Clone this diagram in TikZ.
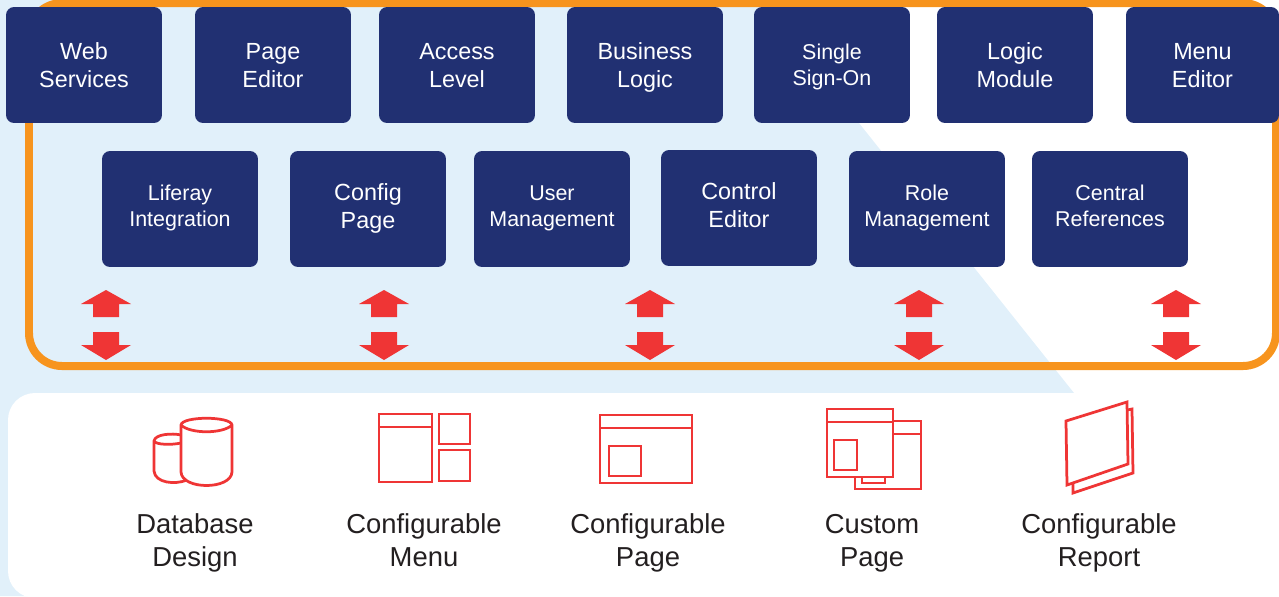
\documentclass[tikz,border=0pt]{standalone}
\usepackage{fontspec}
\setmainfont{Liberation Sans}
\definecolor{navybox}{RGB}{33, 48, 114}
\definecolor{frameorange}{RGB}{247, 148, 30}
\definecolor{arrowred}{RGB}{239, 53, 53}
\definecolor{paleblue}{RGB}{225, 240, 250}
\definecolor{labeldark}{RGB}{35, 31, 32}
\usetikzlibrary{positioning}
\tikzset{
  modbox/.style={fill=navybox, rounded corners=0.16cm, minimum width=3.12cm, minimum height=2.32cm, inner sep=0pt, align=center, text=white, font=\fontsize{13.3}{15.7}\selectfont, text depth=0pt},
  toprow/.style={modbox, text height=25.5pt},
  lowrow/.style={modbox, text height=22.2pt},
  lowsmall/.style={modbox, text height=20pt, font=\fontsize{12.2}{14.6}\selectfont},
  iconline/.style={draw=arrowred, line width=0.055cm, line join=miter},
  itemlabel/.style={align=center, text=labeldark, font=\fontsize{15.6}{19.2}\selectfont, text depth=0pt, text height=26pt}
}

\begin{document}
\begin{tikzpicture}[x=0.02cm, y=-0.02cm]
  \useasboundingbox (0,0) rectangle (1279,596);

  % Background
  \fill[paleblue] (0,0) -- (761,0) -- (1074,393) -- (40,393) -- (40,596) -- (0,596) -- cycle;
  \fill[white, rounded corners=0.54cm] (8,393) rectangle (1320,598);
  \draw[frameorange, line width=0.16cm, rounded corners=0.66cm] (29,3) rectangle (1276,366);

  % Top row
  \node[toprow] (webservices) at (84,65) {Web\\Services};
  \node[toprow] (pageeditor) at (273,65) {Page\\Editor};
  \node[toprow] (accesslevel) at (457,65) {Access\\Level};
  \node[toprow] (businesslogic) at (645,65) {Business\\Logic};
  \node[toprow, text height=23.2pt, font=\fontsize{12.2}{14.6}\selectfont] (singlesignon) at (832,65) {Single\\Sign-On};
  \node[toprow] (logicmodule) at (1015,65) {Logic\\Module};
  \node[toprow, minimum width=3.06cm] (menueditor) at (1202.5,65) {Menu\\Editor};

  % Second row
  \node[lowsmall] (liferay) at (180,209) {Liferay\\Integration};
  \node[lowrow] (configpage) at (368,209) {Config\\Page};
  \node[lowsmall] (usermanagement) at (552,209) {User\\Management};
  \node[lowrow] (controleditor) at (739,208) {Control\\Editor};
  \node[lowsmall] (rolemanagement) at (927,209) {Role\\Management};
  \node[lowsmall] (centralrefs) at (1110,209) {Central\\References};

  % Up and down arrows
  \foreach \ax in {106, 384, 650, 919, 1176} {
    \fill[arrowred] (\ax,290) -- (\ax+25,304) -- (\ax+13,304) -- (\ax+13,317) -- (\ax-13,317) -- (\ax-13,304) -- (\ax-25,304) -- cycle;
    \fill[arrowred] (\ax,360) -- (\ax+25,345) -- (\ax+13,345) -- (\ax+13,332) -- (\ax-13,332) -- (\ax-13,345) -- (\ax-25,345) -- cycle;
  }

  % Database icon
  \draw[iconline] (181,435) .. controls (172,433) and (155,434) .. (154,441) -- (154,471) .. controls (155,483) and (175,485) .. (187,480);
  \draw[iconline] (154,441) .. controls (156,445) and (172,445) .. (181,443);
  \draw[iconline] (181,425) .. controls (182,416) and (231,416) .. (232,425) -- (232,472) .. controls (231,490) and (182,490) .. (181,472) -- cycle;
  \draw[iconline] (181,425) .. controls (190,434) and (223,434) .. (232,425);

  % Menu icon
  \draw[iconline] (379,414) rectangle (432,482);
  \draw[iconline] (379,427) -- (432,427);
  \draw[iconline] (439,414) rectangle (470,444);
  \draw[iconline] (439,450) rectangle (470,481);

  % Page icon
  \draw[iconline] (600,415) rectangle (692,483);
  \draw[iconline] (600,428) -- (692,428);
  \draw[iconline] (609,446) rectangle (641,476);

  % Custom page icon
  \draw[iconline] (827,409) rectangle (893,477);
  \draw[iconline] (827,422) -- (893,422);
  \draw[iconline] (834,440) rectangle (857,470);
  \draw[iconline] (893,421) -- (921,421) -- (921,489) -- (855,489) -- (855,477);
  \draw[iconline] (893,434) -- (921,434);
  \draw[iconline] (862,477) -- (862,483) -- (885,483) -- (885,477);

  % Report icon
  \draw[iconline] (1066,421) -- (1127,402) -- (1128,464) -- (1067,485) -- cycle;
  \draw[iconline] (1127,410) -- (1132,409) -- (1133,473) -- (1073,493) -- (1073,483);

  % Labels
  \node[itemlabel] (dblabel) at (195,544) {Database\\Design};
  \node[itemlabel] (menulabel) at (424,544) {Configurable\\Menu};
  \node[itemlabel] (pagelabel) at (648,544) {Configurable\\Page};
  \node[itemlabel] (customlabel) at (872,544) {Custom\\Page};
  \node[itemlabel] (reportlabel) at (1099,544) {Configurable\\Report};
\end{tikzpicture}
\end{document}
